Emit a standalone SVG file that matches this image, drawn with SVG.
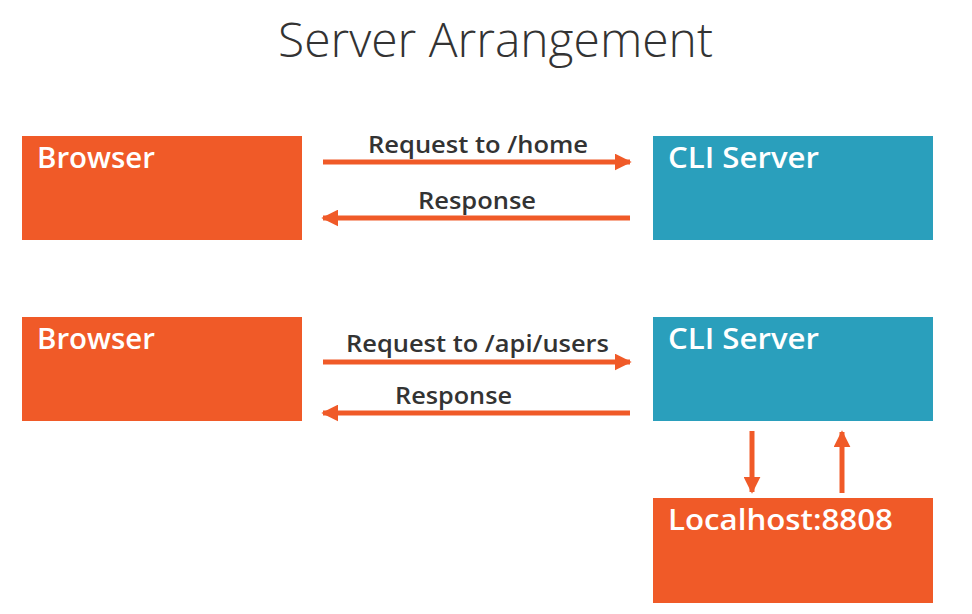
<svg xmlns="http://www.w3.org/2000/svg" width="972" height="614" viewBox="0 0 972 614">
<style>
.o{fill:#F05A28}
.t{fill:#2A9FBC}
.nl{font-family:"Open Sans",Lato,sans-serif;font-weight:600;font-size:28px;fill:#fff}
.el{font-family:"Open Sans",Lato,sans-serif;font-weight:600;font-size:23px;fill:#333}
.ln{stroke:#F05A28;stroke-width:5;fill:none}
</style>
<defs>
<marker id="ah" viewBox="0 0 10 10" refX="9" refY="5" markerWidth="3.4" markerHeight="3.4" orient="auto" markerUnits="strokeWidth">
<path d="M0,0 L10,5 L0,10 z" fill="#F05A28"/>
</marker>
</defs>
<rect width="972" height="614" fill="#fff"/>
<text x="278" y="57" textLength="435" lengthAdjust="spacingAndGlyphs" font-family="'Open Sans',Lato,sans-serif" font-weight="300" font-size="48" fill="#333">Server Arrangement</text>
<g id="browser1"><rect class="o" x="22" y="136" width="280" height="104"/><text class="nl" x="37" y="168" textLength="118" lengthAdjust="spacingAndGlyphs">Browser</text></g>
<g id="cli1"><rect class="t" x="653" y="136" width="280" height="104"/><text class="nl" x="668" y="168" textLength="151" lengthAdjust="spacingAndGlyphs">CLI Server</text></g>
<g id="browser2"><rect class="o" x="22" y="317" width="280" height="104"/><text class="nl" x="37" y="349" textLength="118" lengthAdjust="spacingAndGlyphs">Browser</text></g>
<g id="cli2"><rect class="t" x="653" y="317" width="280" height="104"/><text class="nl" x="668" y="349" textLength="151" lengthAdjust="spacingAndGlyphs">CLI Server</text></g>
<g id="localhost"><rect class="o" x="653" y="498" width="280" height="105"/><text class="nl" x="668" y="530" textLength="225" lengthAdjust="spacingAndGlyphs">Localhost:8808</text></g>
<g id="connectors">
<line class="ln" x1="323" y1="162" x2="630" y2="162" marker-end="url(#ah)"/>
<text class="el" x="368" y="153" textLength="220" lengthAdjust="spacingAndGlyphs">Request to /home</text>
<line class="ln" x1="630" y1="218" x2="323" y2="218" marker-end="url(#ah)"/>
<text class="el" x="418" y="209" textLength="118" lengthAdjust="spacingAndGlyphs">Response</text>
<line class="ln" x1="323" y1="362" x2="630" y2="362" marker-end="url(#ah)"/>
<text class="el" x="346" y="352" textLength="263" lengthAdjust="spacingAndGlyphs">Request to /api/users</text>
<line class="ln" x1="630" y1="413" x2="323" y2="413" marker-end="url(#ah)"/>
<text class="el" x="395" y="404" textLength="117" lengthAdjust="spacingAndGlyphs">Response</text>
<line class="ln" x1="752" y1="431" x2="752" y2="492" marker-end="url(#ah)"/>
<line class="ln" x1="842" y1="493" x2="842" y2="432" marker-end="url(#ah)"/>
</g>
</svg>
